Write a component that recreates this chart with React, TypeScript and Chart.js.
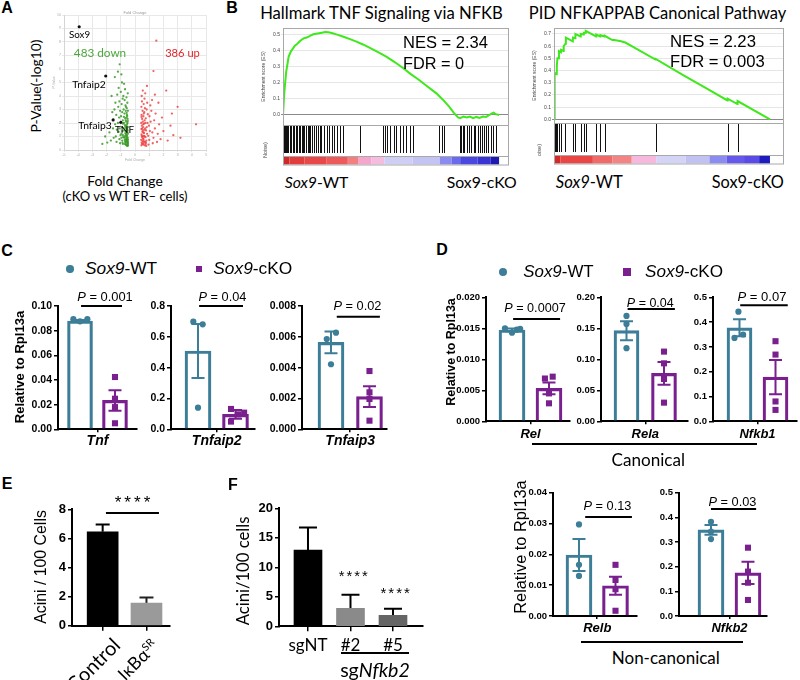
import React, { useEffect, useLayoutEffect, useRef, useState } from 'react';
import { Chart, registerables } from 'chart.js';
Chart.register(...registerables);

const ARIAL = '"Liberation Sans", Arial, sans-serif';
const CAL = 'Lato, "Open Sans", "Noto Sans", sans-serif';
const TEAL = '#3c7d97';
const PURPLE = '#791f8e';

// ---------------- Panel A: volcano (fold change, -log10 p) ----------------
const downGenes: [number, number][] = [
  [-0.50,0.35],[-0.52,0.5],[-0.55,0.7],[-0.51,0.9],[-0.58,1.1],[-0.53,1.3],[-0.6,1.5],[-0.5,1.7],[-0.56,1.9],[-0.62,2.1],[-0.52,2.3],[-0.57,2.6],[-0.5,2.9],[-0.64,3.2],[-0.54,3.5],[-0.6,3.9],[-0.51,4.2],
  [-0.66,0.4],[-0.7,0.6],[-0.63,0.8],[-0.72,1.0],[-0.68,1.25],[-0.75,1.45],[-0.65,1.65],[-0.71,1.85],[-0.78,2.0],[-0.69,2.35],[-0.74,2.7],[-0.8,3.0],[-0.67,3.3],[-0.73,3.7],[-0.82,4.0],[-0.7,4.5],[-0.77,4.9],
  [-0.85,0.45],[-0.9,0.7],[-0.83,0.95],[-0.95,1.2],[-0.88,1.4],[-0.92,1.7],[-0.86,2.2],[-0.98,2.5],[-0.9,2.8],[-0.94,3.4],[-0.87,3.8],[-1.0,4.3],[-0.92,5.0],[-0.96,5.6],[-0.85,1.95],
  [-1.05,0.5],[-1.1,0.8],[-1.02,1.1],[-1.15,1.35],[-1.08,1.6],[-1.2,2.0],[-1.12,2.4],[-1.05,2.9],[-1.18,3.2],[-1.1,3.6],[-1.25,4.1],[-1.15,4.6],[-1.08,6.35],
  [-1.3,0.6],[-1.35,1.0],[-1.28,1.5],[-1.4,1.9],[-1.32,2.6],[-1.45,3.0],[-1.38,3.5],[-1.5,0.9],[-1.55,1.6],[-1.6,2.8],[-1.7,0.7],[-1.8,1.3],[-1.95,0.55],[-2.1,1.0],[-2.3,0.45],[-1.65,4.0],[-1.42,5.4],[-1.2,5.8],
  [-0.55,0.4],[-0.6,0.55],[-0.5,0.6],[-0.58,0.85],[-0.62,1.2],[-0.55,1.55],[-0.5,1.2],[-0.6,2.4],[-0.53,2.0],[-0.65,2.9],[-0.58,3.1],[-0.5,0.75],[-0.7,0.45],[-0.75,0.9],[-0.68,1.75],[-0.8,1.6],[-0.78,2.45],[-0.72,0.75],[-0.85,1.1],[-0.88,0.55],[-0.95,0.9],
  [-0.52,0.3],[-0.57,0.32],[-0.62,0.38],[-0.5,0.45],[-0.54,0.58],[-0.64,0.62],[-0.59,0.7],[-0.66,0.75],[-0.53,0.8],[-0.61,0.95],[-0.56,1.02],[-0.66,1.1],[-0.52,1.45],[-0.63,1.4],[-0.57,1.62],[-0.61,1.8],[-0.51,2.15],[-0.66,2.2],[-0.55,2.5],[-0.59,2.75],
];
const upGenes: [number, number][] = [
  [0.45,0.35],[0.47,0.55],[0.44,0.75],[0.5,0.95],[0.46,1.15],[0.52,1.35],[0.45,1.55],[0.48,1.8],[0.44,2.0],[0.5,2.3],[0.46,2.6],[0.53,2.9],[0.45,3.2],[0.49,3.6],[0.47,4.0],[0.55,4.4],
  [0.58,0.4],[0.62,0.65],[0.56,0.85],[0.64,1.05],[0.6,1.3],[0.66,1.5],[0.57,1.7],[0.63,1.95],[0.68,2.2],[0.59,2.5],[0.65,2.8],[0.7,3.1],[0.61,3.4],[0.67,3.8],[0.72,4.2],[0.6,0.5],[0.57,1.0],[0.55,2.1],
  [0.75,0.45],[0.8,0.7],[0.74,0.95],[0.85,1.2],[0.78,1.45],[0.83,1.7],[0.88,2.0],[0.76,2.35],[0.9,2.65],[0.82,3.0],[0.86,3.5],[0.84,4.75],[0.79,0.3],[0.72,1.6],
  [0.95,0.4],[1.0,0.75],[0.93,1.05],[1.05,1.4],[0.98,1.8],[1.1,2.1],[1.02,2.5],[1.15,2.9],[1.08,3.3],[1.2,3.7],[1.3,5.85],[1.5,8.1],
  [1.25,0.5],[1.3,0.9],[1.22,1.3],[1.4,1.6],[1.35,2.2],[1.45,2.7],[1.55,0.6],[1.6,1.2],[1.7,1.9],[1.8,0.8],[1.9,2.4],[2.0,1.4],[2.2,4.4],[2.3,0.7],[2.5,1.8],[2.7,1.1],[3.0,3.2],[3.2,0.9],[4.3,1.9],[1.65,3.5],[1.4,4.1],[2.6,2.7],
  [0.5,0.45],[0.54,0.65],[0.6,0.8],[0.48,1.05],[0.63,1.25],[0.55,1.45],[0.7,0.6],[0.68,1.0],[0.5,1.6],[0.58,1.9],[0.62,2.7],[0.46,2.45],[0.73,2.0],[0.77,0.55],[0.69,0.35],
];
const markedGenes = ['Sox9', 'Tnfaip2', 'Tnfaip3', 'TNF'];
const markedFC = [-3.93, -2.06, -1.54, -1.0];
const markedP = [9.13, 5.48, 2.23, 2.05];

// ---------------- Panel B: GSEA ----------------
const tnfCurve: [number, number][] = [
  [0,0],[0.5,0.12],[1,0.2],[1.5,0.27],[2,0.31],[2.6,0.36],[3.5,0.39],[4.5,0.41],[5.5,0.43],[6.5,0.44],[8,0.46],[9.5,0.475],[11,0.48],[12.5,0.49],[14,0.5],[16,0.505],[18,0.51],[19.5,0.514],[21,0.513],[23,0.506],[25,0.498],[28,0.485],[31,0.47],[34,0.455],[37,0.437],[40,0.417],[44,0.39],[48,0.36],[52,0.325],[55.7,0.29],[59,0.255],[63,0.217],[67,0.175],[71,0.134],[74,0.095],[77,0.05],[79,0.015],[81,-0.015],[82,-0.02],[83.5,-0.01],[85,-0.015],[86.5,-0.01],[88,-0.02],[89.5,-0.012],[91,-0.018],[92.5,-0.01],[94,-0.012],[95.5,0],[96.5,0.008],[97.5,0.015],[98.5,0.005],[100,0],
];
const tnfHits = [0.3,0.8,1.4,1.9,2.4,3.2,3.9,4.4,5.0,5.8,6.5,7.2,8.0,8.8,9.3,9.8,10.5,11.4,12.2,12.6,13.4,14.2,15.1,16.0,17.0,17.7,18.8,20.3,21.4,22.6,23.7,25.0,26.5,27.8,35.5,46.5,47.2,48.0,49.5,51.2,52.3,54.0,55.5,57.0,58.6,60.0,72.3,73.5,74.5,82.0,82.6,83.5,84.0,85.2,86.1,87.0,88.3,89.0,90.1,91.0,92.2,93.0,94.0,95.1,96.3,97.2,98.4];
const tnfHeatEdges = [0, 3, 10, 20, 30, 35, 41, 47, 60, 72.6, 78, 82, 90, 96, 100];
const tnfHeatColors = ['#cc2a2a','#e23c3c','#e84848','#ee5a5a','#f28080','#f6a6cc','#f4bde0','#cfcff6','#c4c4f4','#8a8af0','#6a6aee','#4a48e0','#3a34d4','#1c1cb0'];
const tnfTicks = ['0.0', '0.1', '0.2', '0.3', '0.4', '0.5'];

const canCurve: [number, number][] = [
  [0,0],[0.3,0.38],[1.2,0.37],[1.3,0.44],[1.6,0.5],[2.2,0.5],[2.3,0.56],[3.2,0.55],[3.3,0.57],[4.4,0.56],[4.5,0.6],[5.3,0.62],[5.5,0.67],[8.7,0.64],[8.8,0.67],[9.8,0.665],[9.9,0.7],[12.3,0.68],[12.4,0.7],[13.7,0.695],[13.8,0.71],[14.6,0.71],[14.7,0.725],[19.5,0.68],[19.6,0.695],[21.4,0.68],[21.5,0.69],[23.4,0.68],[23.5,0.685],[27,0.65],[28,0.65],[31,0.64],[33,0.63],[36,0.6],[47,0.49],[47.1,0.495],[60,0.36],[70,0.26],[80.3,0.155],[80.4,0.17],[84.9,0.125],[85,0.15],[100,0],
];
const canHits = [0.3, 0.9, 1.5, 2.3, 3.4, 5.0, 8.8, 9.9, 12.4, 13.8, 14.7, 19.6, 21.5, 23.5, 47, 80.4, 85];
const canHeatEdges = [0, 3, 18, 27, 36, 47.5, 61, 72, 80, 88, 95, 100];
const canHeatColors = ['#d02a2a','#ea4646','#f06a6a','#f28484','#f6b8dc','#d4d4f6','#c2c2f2','#8c8cf0','#6658ea','#5a4ae6','#1c1cc0'];
const canTicks = ['0.0', '0.1', '0.2', '0.3', '0.4', '0.5', '0.6', '0.7'];

// ---------------- Panel C ----------------
const cGenes = ['Tnf', 'Tnfaip2', 'Tnfaip3'];
const cWtMean = [0.0878, 0.508, 0.00564];
const cWtSem = [0.0008, 0.175, 0.00071];
const cKoMean = [0.0234, 0.097, 0.00212];
const cKoSem = [0.0083, 0.028, 0.00067];
const cWtPts = [[0.0893, 0.0876, 0.0893], [0.698, 0.681, 0.14], [0.00586, 0.00627, 0.00422]];
const cWtJit = [[-0.19, 0, 0.21], [-0.125, 0.125, 0], [-0.11, 0.13, 0]];
const cKoPts = [[0.0424, 0.0248, 0.018, 0.0049], [0.132, 0.108, 0.097, 0.05], [0.00378, 0.0024, 0.00197, 0.00056]];
const cKoJit = [[0, 0, 0, 0], [-0.12, 0.23, 0.07, -0.12], [0, 0, 0, 0]];
const cTicks = [
  ['0.00', '0.02', '0.04', '0.06', '0.08', '0.10'],
  ['0.0', '0.2', '0.4', '0.6', '0.8'],
  ['0.000', '0.002', '0.004', '0.006', '0.008'],
];
const cP = ['0.001', '0.04', '0.02'];

// ---------------- Panel D (canonical) ----------------
const dGenes = ['Rel', 'Rela', 'Nfkb1'];
const dWtMean = [0.01473, 0.1462, 0.377];
const dWtSem = [0.00022, 0.0153, 0.034];
const dKoMean = [0.0053, 0.0774, 0.178];
const dKoSem = [0.00095, 0.0183, 0.069];
const dWtPts = [[0.015, 0.0143, 0.0148, 0.0149], [0.17, 0.157, 0.118], [0.442, 0.336, 0.35]];
const dWtJit = [[-0.19, 0, 0.13, 0.22], [0, 0, 0], [-0.03, -0.14, 0.1]];
const dKoPts = [[0.0069, 0.0072, 0.0045, 0.0029], [0.1124, 0.0935, 0.0683, 0.0301], [0.323, 0.269, 0.08, 0.046]];
const dKoJit = [[-0.11, 0.1, 0, 0], [0, 0, 0, 0], [0, 0, 0, 0]];
const dTicks = [
  ['0.000', '0.005', '0.010', '0.015', '0.020'],
  ['0.00', '0.05', '0.10', '0.15', '0.20'],
  ['0.0', '0.1', '0.2', '0.3', '0.4', '0.5'],
];
const dP = ['0.0007', '0.04', '0.07'];

// ---------------- Panel D (non-canonical) ----------------
const nGenes = ['Relb', 'Nfkb2'];
const nWtMean = [0.0198, 0.349];
const nWtSem = [0.0052, 0.02];
const nKoMean = [0.0098, 0.175];
const nKoSem = [0.0029, 0.045];
const nWtPts = [[0.0297, 0.0166, 0.013], [0.382, 0.342, 0.312]];
const nWtJit = [[0, 0, 0], [0, 0, 0]];
const nKoPts = [[0.0166, 0.0117, 0.0087, 0.0017], [0.277, 0.18, 0.135, 0.065]];
const nKoJit = [[0, 0, 0, 0], [0, 0, 0, 0]];
const nTicks = [
  ['0.00', '0.01', '0.02', '0.03', '0.04'],
  ['0.0', '0.1', '0.2', '0.3', '0.4', '0.5'],
];
const nP = ['0.13', '0.03'];

// ---------------- Panel E ----------------
const eGroups = ['Control', 'IκBα'];
const eGroupSup = ['', 'SR'];
const eMean = [6.45, 1.55];
const eSem = [0.5, 0.38];
const eTicks = ['0', '2', '4', '6', '8'];

// ---------------- Panel F ----------------
const fGroups = ['sgNT', '#2', '#5'];
const fMean = [12.9, 3.05, 1.86];
const fSem = [3.85, 2.3, 1.1];
const fTicks = ['0', '5', '10', '15', '20'];

// ================= layout (pixel boxes of plot areas) =================
type Box = { L: number; T: number; R: number; B: number; yW: number; xH: number; pt: number; pr: number; pb: number };
const mk = (L: number, T: number, R: number, B: number, yW: number, xH: number, pt = 10, pr = 6, pb = 2): Box => ({ L, T, R, B, yW, xH, pt, pr, pb });

const cLayout = [
  { L: 58, R: 137, xmin: -1.129, xmax: 1.129, bw: 25, sig: [-0.47, 0.7, 0.1] },
  { L: 171, R: 255, xmin: -1.22, xmax: 1.02, bw: 26, sig: [-0.47, 0.7, 0.8] },
  { L: 302, R: 387, xmin: -1.253, xmax: 0.955, bw: 26, sig: [-0.35, 0.77, 0.0073] },
];
const dLayout = [
  { L: 486, R: 570, xmin: -1.203, xmax: 1.068, bw: 26, sig: [-0.47, 0.8, 0.0165] },
  { L: 601, R: 688, xmin: -1.18, xmax: 1.14, bw: 25, sig: [-0.47, 0.79, 0.181] },
  { L: 713, R: 797, xmin: -1.236, xmax: 1.097, bw: 25, sig: [-0.48, 0.84, 0.468] },
];
const nLayout = [
  { L: 553, R: 637, xmin: -1.212, xmax: 1.089, bw: 26, sig: [-0.33, 0.95, 0.0321] },
  { L: 679, R: 767, xmin: -1.365, xmax: 1.014, bw: 26, sig: [-0.5, 0.72, 0.434] },
];

// ================= chart helpers =================
function ChartCanvas({ b, cfg }: { b: Box; cfg: () => any }) {
  const ref = useRef<HTMLCanvasElement | null>(null);
  const cl = Math.floor(b.L - b.yW - 2);
  const ct = Math.floor(b.T - b.pt);
  const cr = Math.ceil(b.R + b.pr);
  const cb = Math.ceil(b.B + b.xH + b.pb);
  const w = cr - cl;
  const h = cb - ct;
  useEffect(() => {
    const c = cfg();
    c.options = c.options || {};
    c.options.layout = { padding: { left: b.L - b.yW - cl, top: b.T - ct, right: cr - b.R, bottom: cb - b.B - b.xH } };
    c.options.responsive = false;
    c.options.maintainAspectRatio = false;
    c.options.animation = false;
    c.options.devicePixelRatio = 1;
    c.options.events = [];
    const ch = new Chart(ref.current as HTMLCanvasElement, c);
    return () => ch.destroy();
  }, []);
  return <canvas ref={ref} width={w} height={h} style={{ position: 'absolute', left: cl, top: ct, width: w, height: h }} />;
}

function yAxis(labels: string[], size: number, yW: number) {
  const vals = labels.map(Number);
  return {
    type: 'linear',
    min: vals[0],
    max: vals[vals.length - 1],
    afterBuildTicks: (s: any) => { s.ticks = vals.map((v) => ({ value: v })); },
    ticks: { callback: (_v: any, i: number) => labels[i], font: { family: ARIAL, size, weight: 'bold' }, color: '#000', padding: 2, autoSkip: false },
    grid: { display: true, drawOnChartArea: false, drawTicks: true, tickLength: 4, color: '#000', lineWidth: 1.5 },
    border: { display: true, color: '#000', width: 2 },
    afterFit: (s: any) => { s.width = yW; },
  };
}

function xLinear(min: number, max: number, vals: number[], label: (i: number) => string, font: any, pad: number, xH: number, tl: number, show = true) {
  return {
    type: 'linear',
    min,
    max,
    offset: false,
    afterBuildTicks: (s: any) => { s.ticks = vals.map((v) => ({ value: v })); },
    ticks: { display: show, callback: (_v: any, i: number) => label(i), font, color: '#000', padding: pad, maxRotation: 0, minRotation: 0, autoSkip: false },
    grid: { offset: false, display: true, drawOnChartArea: false, drawTicks: true, tickLength: tl, color: '#000', lineWidth: 1.5 },
    border: { display: true, color: '#000', width: 2 },
    afterFit: (s: any) => { s.height = xH; },
  };
}

function errPlugin(items: { x: number; m: number; s: number; c: string }[], cap: number, upOnly: boolean) {
  return {
    id: 'errbars',
    beforeDatasetsDraw(chart: any) {
      const { ctx } = chart;
      const x = chart.scales.x;
      const y = chart.scales.y;
      ctx.save();
      ctx.lineWidth = 2;
      for (const it of items) {
        const px = x.getPixelForValue(it.x);
        const t = y.getPixelForValue(it.m + it.s);
        const bt = y.getPixelForValue(upOnly ? it.m : it.m - it.s);
        ctx.strokeStyle = it.c;
        ctx.beginPath();
        ctx.moveTo(px, t);
        ctx.lineTo(px, bt);
        ctx.moveTo(px - cap / 2, t);
        ctx.lineTo(px + cap / 2, t);
        if (!upOnly) {
          ctx.moveTo(px - cap / 2, bt);
          ctx.lineTo(px + cap / 2, bt);
        }
        ctx.stroke();
      }
      ctx.restore();
    },
  };
}

function sigPlugin(sig: number[]) {
  return {
    id: 'sigline',
    afterDatasetsDraw(chart: any) {
      const { ctx } = chart;
      const x = chart.scales.x;
      const y = chart.scales.y;
      const py = y.getPixelForValue(sig[2]);
      ctx.save();
      ctx.strokeStyle = '#000';
      ctx.lineWidth = 2;
      ctx.beginPath();
      ctx.moveTo(x.getPixelForValue(sig[0]), py);
      ctx.lineTo(x.getPixelForValue(sig[1]), py);
      ctx.stroke();
      ctx.restore();
    },
  };
}

function geneCfg(o: any) {
  return {
    type: 'bar',
    data: {
      datasets: [
        { type: 'scatter', data: o.wtPts.map((y: number, i: number) => ({ x: -0.5 + o.wtJit[i], y })), pointStyle: 'circle', pointRadius: 3.1, backgroundColor: TEAL, borderWidth: 0, order: 0, clip: false },
        { type: 'scatter', data: o.koPts.map((y: number, i: number) => ({ x: 0.5 + o.koJit[i], y })), pointStyle: 'rect', pointRadius: 4.3, backgroundColor: PURPLE, borderWidth: 0, order: 0, clip: false },
        { type: 'bar', data: [{ x: -0.5, y: o.wt }], backgroundColor: 'rgba(255,255,255,0)', borderColor: TEAL, borderWidth: 2.5, barThickness: o.bw, grouped: false, order: 1 },
        { type: 'bar', data: [{ x: 0.5, y: o.ko }], backgroundColor: 'rgba(255,255,255,0)', borderColor: PURPLE, borderWidth: 2.5, barThickness: o.bw, grouped: false, order: 1 },
      ],
    },
    options: {
      plugins: { legend: { display: false }, tooltip: { enabled: false } },
      scales: {
        x: xLinear(o.xmin, o.xmax, [0], () => o.gene, { family: ARIAL, size: o.cf, weight: 'bold', style: 'italic' }, o.cp, o.xH, 3),
        y: yAxis(o.ticks, o.tf, o.yW),
      },
    },
    plugins: [
      errPlugin([{ x: -0.5, m: o.wt, s: o.wtSem, c: TEAL }, { x: 0.5, m: o.ko, s: o.koSem, c: PURPLE }], 13, false),
      sigPlugin(o.sig),
    ],
  };
}

function groupBarCfg(o: any) {
  return {
    type: 'bar',
    data: {
      datasets: [
        { data: o.means.map((y: number, i: number) => ({ x: i, y })), backgroundColor: o.colors, borderWidth: 0, barThickness: o.bw, grouped: false },
      ],
    },
    options: {
      plugins: { legend: { display: false }, tooltip: { enabled: false } },
      scales: {
        x: xLinear(o.xmin, o.xmax, o.means.map((_: number, i: number) => i), (i) => o.labels[i], { family: CAL, size: o.lf }, o.lp, o.xH, 5, o.showLabels),
        y: yAxis(o.ticks, o.tf, o.yW),
      },
    },
    plugins: [
      errPlugin(o.means.map((m: number, i: number) => ({ x: i, m, s: o.sems[i], c: o.errColors[i] })), o.cap, true),
      ...(o.sig ? [sigPlugin(o.sig)] : []),
    ],
  };
}

function gseaPlugin(hits: number[], edges: number[], colors: string[], hitsH: number, heatH: number) {
  return {
    id: 'gseaParts',
    afterDraw(chart: any) {
      const { ctx, chartArea: a } = chart;
      const x = chart.scales.x;
      ctx.save();
      ctx.strokeStyle = '#111';
      ctx.lineWidth = 1;
      for (const h of hits) {
        const px = Math.round(x.getPixelForValue(h)) + 0.5;
        ctx.beginPath();
        ctx.moveTo(px, a.bottom + 1);
        ctx.lineTo(px, a.bottom + hitsH - 3);
        ctx.stroke();
      }
      const hy = a.bottom + hitsH + 1;
      for (let i = 0; i < colors.length; i++) {
        const x0 = x.getPixelForValue(edges[i]);
        const x1 = x.getPixelForValue(edges[i + 1]);
        ctx.fillStyle = colors[i];
        ctx.fillRect(x0, hy, x1 - x0, heatH);
      }
      ctx.strokeStyle = '#a8a8a8';
      ctx.lineWidth = 1;
      ctx.strokeRect(a.left + 0.5, a.top + 0.5, a.right - a.left - 1, hitsH + heatH + 1 + (a.bottom - a.top));
      ctx.beginPath();
      ctx.moveTo(a.left, a.bottom + 0.5);
      ctx.lineTo(a.right, a.bottom + 0.5);
      ctx.moveTo(a.left, a.bottom + hitsH + 0.5);
      ctx.lineTo(a.right, a.bottom + hitsH + 0.5);
      ctx.stroke();
      ctx.restore();
    },
  };
}

function gseaCfg(curve: [number, number][], xmax: number, ymin: number, ymax: number, ticks: string[], hits: number[], edges: number[], colors: string[], hitsH: number, heatH: number, yW: number) {
  const vals = ticks.map(Number);
  return {
    type: 'line',
    data: { datasets: [{ data: curve.map(([x, y]) => ({ x, y })), borderColor: '#3fe81c', borderWidth: 2, pointRadius: 0, tension: 0, fill: false }] },
    options: {
      plugins: { legend: { display: false }, tooltip: { enabled: false } },
      scales: {
        x: { type: 'linear', min: 0, max: xmax, display: false },
        y: {
          type: 'linear',
          min: ymin,
          max: ymax,
          afterBuildTicks: (s: any) => { s.ticks = vals.map((v) => ({ value: v })); },
          ticks: { callback: (_v: any, i: number) => ticks[i], font: { family: ARIAL, size: 5 }, color: '#444', padding: 1, autoSkip: false },
          grid: { color: (c: any) => (c.tick && c.tick.value === 0 ? '#8a8a8a' : '#e6e6e6'), lineWidth: 1, drawTicks: true, tickLength: 2 },
          border: { display: false },
          title: { display: true, text: 'Enrichment score (ES)', font: { family: ARIAL, size: 5 }, color: '#444', padding: 0 },
          afterFit: (s: any) => { s.width = yW; },
        },
      },
    },
    plugins: [gseaPlugin(hits, edges, colors, hitsH, heatH)],
  };
}

function volcanoCfg() {
  const tiny = { family: ARIAL, size: 3.5 };
  return {
    type: 'scatter',
    data: {
      datasets: [
        { data: markedFC.map((x, i) => ({ x, y: markedP[i] })), backgroundColor: '#111', pointRadius: 1.6, borderWidth: 0 },
        { data: downGenes.map(([x, y]) => ({ x, y })), backgroundColor: 'rgba(60,155,40,0.85)', pointRadius: 1.15, borderWidth: 0 },
        { data: upGenes.map(([x, y]) => ({ x, y })), backgroundColor: 'rgba(238,60,60,0.8)', pointRadius: 1.15, borderWidth: 0 },
      ],
    },
    options: {
      plugins: { legend: { display: false }, tooltip: { enabled: false } },
      scales: {
        x: { type: 'linear', min: -5, max: 5, ticks: { stepSize: 1, font: tiny, color: '#aaa', padding: 1, maxRotation: 0 }, grid: { color: '#e8e8e8', tickLength: 2 }, border: { color: '#d5d5d5' }, title: { display: true, text: 'Fold Change', font: tiny, color: '#aaa', padding: 0 }, afterFit: (s: any) => { s.height = 12; } },
        y: { type: 'linear', min: 0, max: 10, ticks: { stepSize: 1, font: tiny, color: '#aaa', padding: 1 }, grid: { color: '#e8e8e8', tickLength: 2 }, border: { color: '#d5d5d5' }, title: { display: true, text: 'P-Value', font: tiny, color: '#aaa', padding: 0 }, afterFit: (s: any) => { s.width = 12; } },
      },
    },
  };
}

// ================= text helpers =================
function T({ x, y, w, s = 14, f = CAL, b = false, it = false, c = '#000', rot = 0, a = 'c', ls = 0, children }: any) {
  const ref = useRef<HTMLSpanElement | null>(null);
  const [fs, setFs] = useState<number>(s);
  useLayoutEffect(() => {
    const el = ref.current;
    if (!w || !el) return;
    const cur = parseFloat(el.style.fontSize);
    const mw = el.offsetWidth;
    if (mw > 0) setFs(cur * w / mw);
  }, []);
  const tx = a === 'c' ? '-50%' : a === 'l' ? '0' : '-100%';
  return (
    <div style={{ position: 'absolute', left: x, top: y, width: 0, height: 0, transform: `rotate(${rot}deg)`, transformOrigin: '0 0' }}>
      <span ref={ref} style={{ position: 'absolute', left: 0, top: 0, transform: `translate(${tx},-50%)`, whiteSpace: 'nowrap', fontFamily: f, fontSize: fs + 'px', fontWeight: b ? 700 : 400, fontStyle: it ? 'italic' : 'normal', color: c, lineHeight: 1, letterSpacing: ls }}>
        {children}
      </span>
    </div>
  );
}

function HLine({ x1, x2, y, t = 2 }: any) {
  return <div style={{ position: 'absolute', left: x1, top: y - t / 2, width: x2 - x1, height: t, background: '#000' }} />;
}

function Dot({ x, y, r, c, sq = false }: any) {
  return <div style={{ position: 'absolute', left: x - r, top: y - r, width: 2 * r, height: 2 * r, background: c, borderRadius: sq ? 0 : '50%' }} />;
}

const Pv = ({ v }: { v: string }) => (<><i>P</i> = {v}</>);

export default function App() {
  const cCharts = cGenes.map((g, i) => ({
    box: mk(cLayout[i].L, 306, cLayout[i].R, 429.3, 36, 22),
    cfg: () => geneCfg({ gene: g, wt: cWtMean[i], wtSem: cWtSem[i], ko: cKoMean[i], koSem: cKoSem[i], wtPts: cWtPts[i], wtJit: cWtJit[i], koPts: cKoPts[i], koJit: cKoJit[i], ticks: cTicks[i], xmin: cLayout[i].xmin, xmax: cLayout[i].xmax, bw: cLayout[i].bw, sig: cLayout[i].sig, tf: 10.5, cf: 14, cp: 0, yW: 36, xH: 22 }),
  }));
  const dCharts = dGenes.map((g, i) => ({
    box: mk(dLayout[i].L, 297.3, dLayout[i].R, 421.3, 32, 22),
    cfg: () => geneCfg({ gene: g, wt: dWtMean[i], wtSem: dWtSem[i], ko: dKoMean[i], koSem: dKoSem[i], wtPts: dWtPts[i], wtJit: dWtJit[i], koPts: dKoPts[i], koJit: dKoJit[i], ticks: dTicks[i], xmin: dLayout[i].xmin, xmax: dLayout[i].xmax, bw: dLayout[i].bw, sig: dLayout[i].sig, tf: 9.5, cf: 13, cp: 2, yW: 32, xH: 22 }),
  }));
  const nCharts = nGenes.map((g, i) => ({
    box: mk(nLayout[i].L, 492.7, nLayout[i].R, 616, 32, 22),
    cfg: () => geneCfg({ gene: g, wt: nWtMean[i], wtSem: nWtSem[i], ko: nKoMean[i], koSem: nKoSem[i], wtPts: nWtPts[i], wtJit: nWtJit[i], koPts: nKoPts[i], koJit: nKoJit[i], ticks: nTicks[i], xmin: nLayout[i].xmin, xmax: nLayout[i].xmax, bw: nLayout[i].bw, sig: nLayout[i].sig, tf: 9.5, cf: 13, cp: 2, yW: 32, xH: 22 }),
  }));
  const eBox = mk(72, 509.3, 170, 625.7, 26, 10);
  const eCfg = () => groupBarCfg({ means: eMean, sems: eSem, labels: eGroups, colors: ['#000', '#9a9a9a'], errColors: ['#000', '#222'], bw: 31, xmin: -0.7, xmax: 1.537, ticks: eTicks, tf: 13, yW: 26, xH: 10, lf: 16, lp: 4, showLabels: false, cap: 14, sig: [0.075, 1.285, 7.75] });
  const fBox = mk(279, 508.3, 423, 626.3, 30, 28);
  const fCfg = () => groupBarCfg({ means: fMean, sems: fSem, labels: fGroups, colors: ['#000', '#8a8a8a', '#656565'], errColors: ['#000', '#000', '#000'], bw: 28, xmin: -0.682, xmax: 2.706, ticks: fTicks, tf: 13, yW: 30, xH: 28, lf: 17, lp: 4, showLabels: true, cap: 18 });

  const panelLetter = { s: 16, f: ARIAL, b: true };
  return (
    <div style={{ position: 'absolute', left: 0, top: 0, width: 800, height: 680, background: '#fff', overflow: 'hidden' }}>
      <ChartCanvas b={mk(64, 15, 206, 150, 12, 12, 4, 4, 2)} cfg={volcanoCfg} />
      <ChartCanvas b={mk(283, 28, 509, 125, 22, 0, 4, 4, 42)} cfg={() => gseaCfg(tnfCurve, 104.6, -0.062, 0.539, tnfTicks, tnfHits, tnfHeatEdges, tnfHeatColors, 31, 7.5, 22)} />
      <ChartCanvas b={mk(554, 28, 784, 123, 22, 0, 4, 4, 43)} cfg={() => gseaCfg(canCurve, 106.5, -0.03, 0.749, canTicks, canHits, canHeatEdges, canHeatColors, 32, 7.5, 22)} />
      {cCharts.map((c, i) => <ChartCanvas key={'c' + i} b={c.box} cfg={c.cfg} />)}
      {dCharts.map((c, i) => <ChartCanvas key={'d' + i} b={c.box} cfg={c.cfg} />)}
      {nCharts.map((c, i) => <ChartCanvas key={'n' + i} b={c.box} cfg={c.cfg} />)}
      <ChartCanvas b={eBox} cfg={eCfg} />
      <ChartCanvas b={fBox} cfg={fCfg} />

      {/* panel letters */}
      <T x={7} y={8} {...panelLetter}>A</T>
      <T x={232} y={8} {...panelLetter}>B</T>
      <T x={7} y={251} {...panelLetter}>C</T>
      <T x={442} y={250} {...panelLetter}>D</T>
      <T x={7} y={484} {...panelLetter}>E</T>
      <T x={233} y={485} {...panelLetter}>F</T>

      {/* A */}
      <T x={135} y={12.5} s={4} f={ARIAL} c="#999">Fold Change</T>
      <T x={36} y={86} w={93} rot={-90}>P-Value(-log10)</T>
      <T x={125} y={181} w={75}>Fold Change</T>
      <T x={125} y={197} w={125}>(cKO vs WT ER– cells)</T>
      <T x={79.5} y={35} w={21}>{markedGenes[0]}</T>
      <T x={100} y={52.7} w={52} c="#4ba83b">483 down</T>
      <T x={182.5} y={52.7} w={35} c="#e2262a">386 up</T>
      <T x={89} y={83.7} w={34}>{markedGenes[1]}</T>
      <T x={95} y={125} w={34}>{markedGenes[2]}</T>
      <T x={124.5} y={130} w={19}>{markedGenes[3]}</T>

      {/* B */}
      <T x={381.5} y={13} w={243}>Hallmark TNF Signaling via NFKB</T>
      <T x={403} y={43} w={85} f={ARIAL} a="l">NES = 2.34</T>
      <T x={403} y={63} w={61.7} f={ARIAL} a="l">FDR = 0</T>
      <T x={657.5} y={13} w={258}>PID NFKAPPAB Canonical Pathway</T>
      <T x={670} y={41.7} w={86} f={ARIAL} a="l">NES = 2.23</T>
      <T x={670} y={61.7} w={95} f={ARIAL} a="l">FDR = 0.003</T>
      <T x={316.5} y={182} w={63.3}><i>Sox9</i>-WT</T>
      <T x={481.7} y={182} w={70}>Sox9-cKO</T>
      <T x={589.3} y={182} w={66.7}><i>Sox9</i>-WT</T>
      <T x={747.8} y={182} w={72.3}>Sox9-cKO</T>
      <T x={265.5} y={150} s={5.5} f={ARIAL} c="#444" rot={-90}>Noise)</T>
      <T x={539.5} y={150} s={5.5} f={ARIAL} c="#444" rot={-90}>oise)</T>

      {/* C */}
      <Dot x={70} y={269} r={3.7} c={TEAL} />
      <T x={85} y={269} w={71.7} f={ARIAL} a="l"><i>Sox9</i>-WT</T>
      <Dot x={199} y={269} r={3.2} c={PURPLE} sq />
      <T x={213.3} y={269} w={79.3} f={ARIAL} a="l"><i>Sox9</i>-cKO</T>
      <T x={105} y={296.7} w={55.3} f={ARIAL}><Pv v={cP[0]} /></T>
      <T x={222.5} y={296.7} w={48.3} f={ARIAL}><Pv v={cP[1]} /></T>
      <T x={357.5} y={306} w={48.3} f={ARIAL}><Pv v={cP[2]} /></T>
      <T x={20} y={367} w={113} f={ARIAL} b rot={-90}>Relative to Rpl13a</T>

      {/* D */}
      <Dot x={503.3} y={271.7} r={4} c={TEAL} />
      <T x={523.3} y={271.7} w={70} f={ARIAL} a="l"><i>Sox9</i>-WT</T>
      <Dot x={627.3} y={271.7} r={4} c={PURPLE} sq />
      <T x={645} y={271.7} w={78.3} f={ARIAL} a="l"><i>Sox9</i>-cKO</T>
      <T x={535} y={308.3} w={61.3} f={ARIAL}><Pv v={dP[0]} /></T>
      <T x={650.3} y={302.7} w={47.3} f={ARIAL}><Pv v={dP[1]} /></T>
      <T x={762} y={296.7} w={49.3} f={ARIAL}><Pv v={dP[2]} /></T>
      <T x={451} y={352} w={108} f={ARIAL} b rot={-90}>Relative to Rpl13a</T>
      <HLine x1={531.7} x2={756.7} y={444} />
      <T x={648.3} y={460} w={73.3}>Canonical</T>
      <T x={607.5} y={506} w={48.3} f={ARIAL}><Pv v={nP[0]} /></T>
      <T x={732.5} y={501.7} w={48.3} f={ARIAL}><Pv v={nP[1]} /></T>
      <T x={519.5} y={546.7} w={133} f={ARIAL} rot={-90}>Relative to Rpl13a</T>
      <HLine x1={580.7} x2={743.3} y={641.7} />
      <T x={665.8} y={658.3} w={108.3}>Non-canonical</T>

      {/* E */}
      <T x={41} y={566.7} w={113.3} f={ARIAL} rot={-90}>Acini / 100 Cells</T>
      <T x={134} y={503.3} w={41.7} f={ARIAL} ls={3}>****</T>
      <T x={116} y={641} w={66} rot={-45} a="r">{eGroups[0]}</T>
      <T x={155} y={643} w={48} rot={-45} a="r">{eGroups[1]}<sup style={{ fontSize: '0.6em', verticalAlign: '0.6em', lineHeight: 0 }}>{eGroupSup[1]}</sup></T>

      {/* F */}
      <T x={243} y={570.8} w={108.3} rot={-90}>Acini/100 cells</T>
      <T x={354.2} y={576} w={31.7} f={ARIAL} ls={2}>****</T>
      <T x={396.2} y={593.3} w={32.3} f={ARIAL} ls={2}>****</T>
      <HLine x1={340.7} x2={409} y={652.7} />
      <T x={375} y={670} w={70}>sg<i>Nfkb2</i></T>
    </div>
  );
}
